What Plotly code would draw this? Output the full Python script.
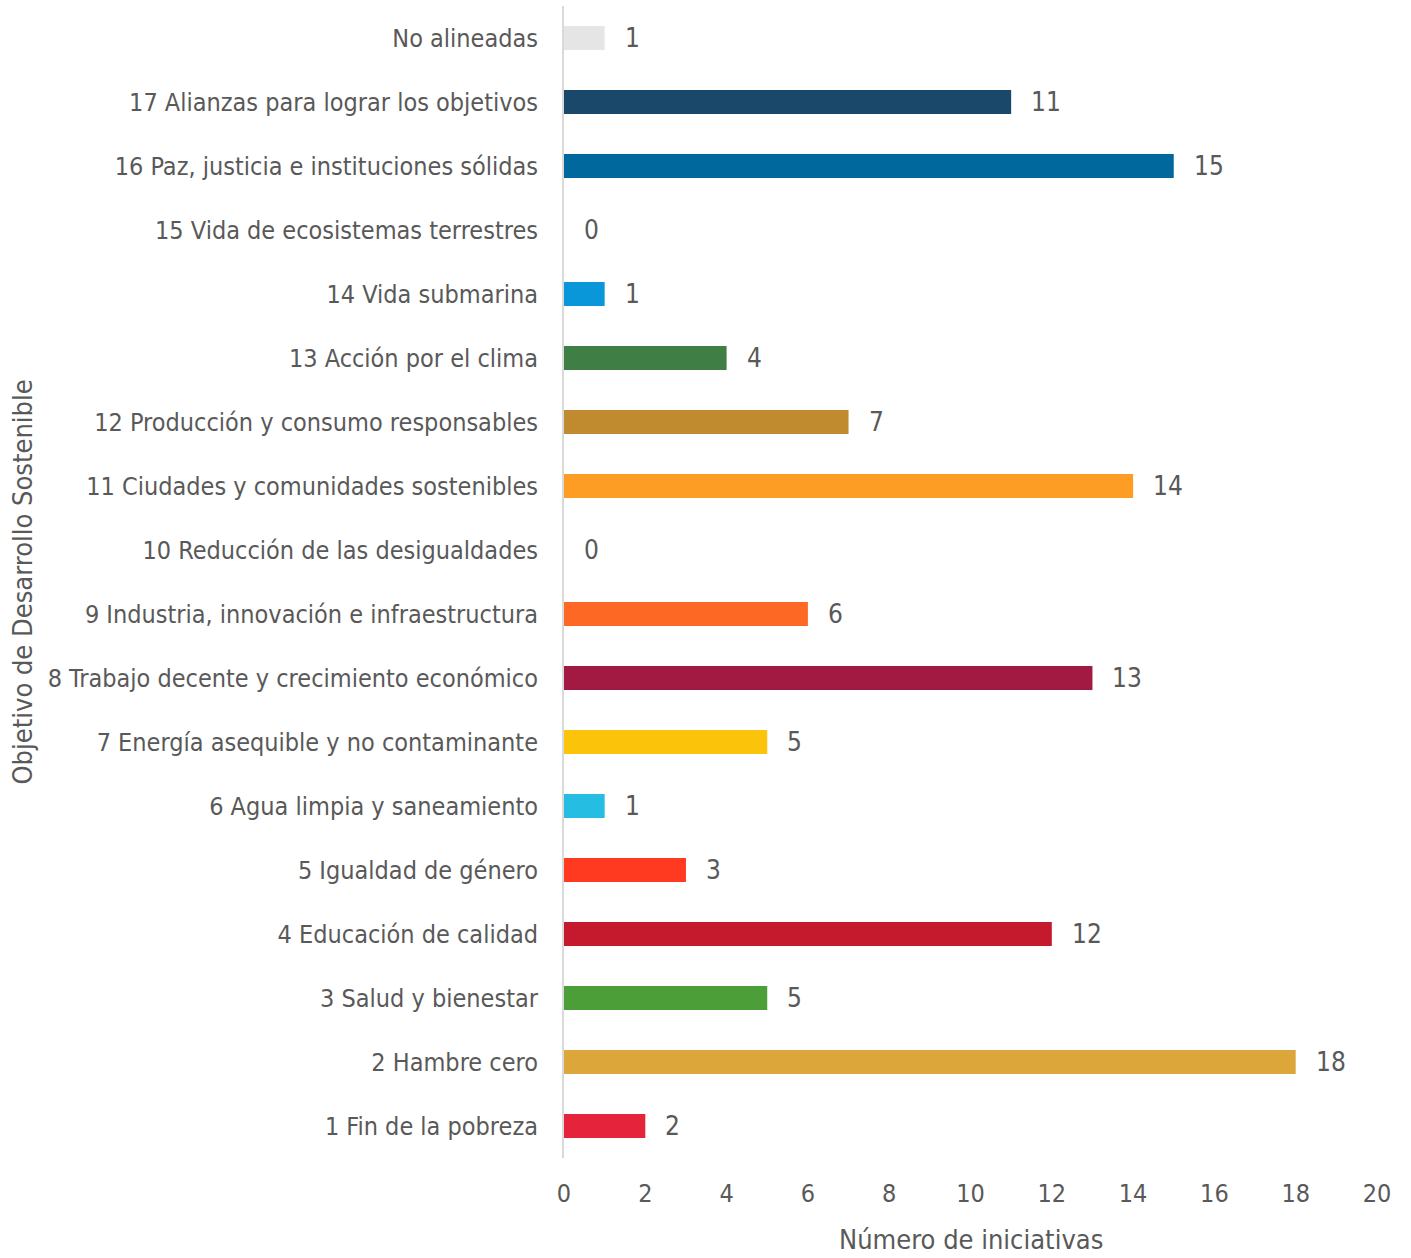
import plotly.graph_objects as go

categories = [
    "No alineadas",
    "17 Alianzas para lograr los objetivos",
    "16 Paz, justicia e instituciones sólidas",
    "15 Vida de ecosistemas terrestres",
    "14 Vida submarina",
    "13 Acción por el clima",
    "12 Producción y consumo responsables",
    "11 Ciudades y comunidades sostenibles",
    "10 Reducción de las desigualdades",
    "9 Industria, innovación e infraestructura",
    "8 Trabajo decente y crecimiento económico",
    "7 Energía asequible y no contaminante",
    "6 Agua limpia y saneamiento",
    "5 Igualdad de género",
    "4 Educación de calidad",
    "3 Salud y bienestar",
    "2 Hambre cero",
    "1 Fin de la pobreza",
]
values = [1, 11, 15, 0, 1, 4, 7, 14, 0, 6, 13, 5, 1, 3, 12, 5, 18, 2]
colors = [
    "#E5E5E5", "#19486A", "#00689D", "#56C02B", "#0A97D9", "#3F7E44",
    "#BF8B2E", "#FD9D24", "#DD1367", "#FD6925", "#A21942", "#FCC30B",
    "#26BDE2", "#FF3A21", "#C5192D", "#4C9F38", "#DDA63A", "#E5243B",
]
x_ticks = [0, 2, 4, 6, 8, 10, 12, 14, 16, 18, 20]

FONT = "DejaVu Sans Condensed, Roboto Condensed, Roboto, Liberation Sans, sans-serif"
GREY = "#595959"

fig = go.Figure()
fig.add_trace(go.Bar(
    y=categories, x=values, orientation="h",
    marker=dict(color=colors, line=dict(width=0)),
    width=0.375, hoverinfo="x+y",
))

for c, v in zip(categories, values):
    fig.add_annotation(
        x=v, y=c, text=str(v), showarrow=False,
        xanchor="left", yanchor="middle", xshift=18,
        font=dict(family=FONT, size=26, color=GREY),
    )

fig.add_annotation(
    xref="paper", yref="paper", x=-564 / 813, y=0.5,
    xanchor="left", yanchor="middle", xshift=4,
    text="Objetivo de Desarrollo Sostenible", textangle=-90, showarrow=False,
    font=dict(family=FONT, size=27, color=GREY),
)
fig.add_annotation(
    xref="paper", yref="paper", x=0.5, y=0, yanchor="top", yshift=-64,
    text="Número de iniciativas", showarrow=False,
    font=dict(family=FONT, size=27, color=GREY),
)

fig.update_layout(
    width=1411, height=1258,
    margin=dict(l=564, r=34, t=6, b=100),
    paper_bgcolor="white", plot_bgcolor="white",
    showlegend=False,
    font=dict(family=FONT, size=25, color=GREY),
    xaxis=dict(
        range=[0, 20], tickvals=x_ticks, showgrid=False, zeroline=False,
        showline=False, ticks="", tickfont=dict(size=25, color=GREY),
        ticklabelstandoff=18, automargin=False,
    ),
    yaxis=dict(
        categoryorder="array", categoryarray=categories[::-1],
        range=[-0.5, len(categories) - 0.5],
        showgrid=False, zeroline=False, showline=True,
        linecolor="#D9D9D9", linewidth=2, ticks="",
        ticklabelstandoff=19, automargin=False,
        tickfont=dict(size=25, color=GREY),
    ),
)

fig.write_html("out.html")
